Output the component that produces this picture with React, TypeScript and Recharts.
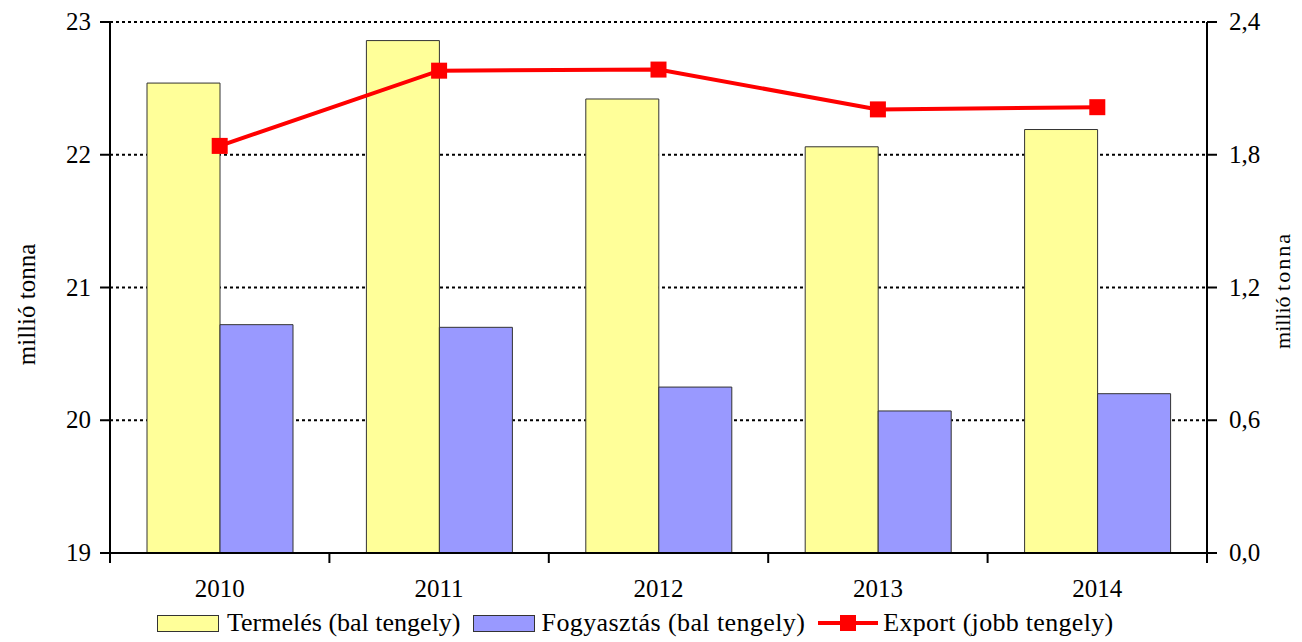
import { ComposedChart, Bar, Line, XAxis, YAxis, CartesianGrid, Legend } from 'recharts';

const years = ['2010', '2011', '2012', '2013', '2014'];
const termeles = [22.54, 22.86, 22.42, 22.06, 22.19];
const fogyasztas = [20.72, 20.7, 20.25, 20.07, 20.2];
const exportVals = [1.84, 2.18, 2.185, 2.005, 2.015];

const leftTicks = [19, 20, 21, 22, 23];
const rightTicks = [0, 0.6, 1.2, 1.8, 2.4];

const data = years.map((year, i) => ({
  year,
  termeles: termeles[i],
  fogyasztas: fogyasztas[i],
  export: exportVals[i],
}));

const FONT = 'Liberation Serif, serif';

const XTick = (props: any) => {
  const { x, y, payload, index, width, visibleTicksCount } = props;
  const half = width / visibleTicksCount / 2;
  const top = y - 10;
  return (
    <g>
      <line x1={x - half} x2={x - half} y1={top} y2={y} stroke="#000" strokeWidth={2} />
      {index === visibleTicksCount - 1 && (
        <line x1={x + half} x2={x + half} y1={top} y2={y} stroke="#000" strokeWidth={2} />
      )}
      <text x={x} y={y + 34} textAnchor="middle" fontSize={25} fontFamily={FONT} fill="#000">
        {payload.value}
      </text>
    </g>
  );
};

const YTick = (props: any) => {
  const { x, y, payload, textAnchor, tickFormatter } = props;
  const label = tickFormatter ? tickFormatter(payload.value) : payload.value;
  return (
    <text x={x} y={y + 8} textAnchor={textAnchor} fontSize={25} fontFamily={FONT} fill="#000">
      {label}
    </text>
  );
};

const SideLabel = ({ viewBox, posX, shift, size, spacing }: any) => {
  const cy = viewBox.y + viewBox.height / 2 + shift;
  return (
    <text
      x={posX}
      y={cy}
      transform={`rotate(-90, ${posX}, ${cy})`}
      textAnchor="middle"
      dominantBaseline="central"
      fontSize={size}
      fontFamily={FONT}
      fill="#000"
    >
      millió <tspan letterSpacing={spacing}>tonna</tspan>
    </text>
  );
};

const LegendContent = () => (
  <div style={{ display: 'flex', alignItems: 'center', fontFamily: FONT, fontSize: 26, color: '#000', paddingLeft: 157, whiteSpace: 'nowrap' }}>
    <span style={{ display: 'inline-block', width: 60, height: 15, background: '#FFFF99', border: '1px solid #333' }} />
    <span style={{ marginLeft: 8, marginRight: 12 }}>Termelés (bal tengely)</span>
    <span style={{ display: 'inline-block', width: 60, height: 15, background: '#9999FF', border: '1px solid #333' }} />
    <span style={{ marginLeft: 7, marginRight: 13, letterSpacing: 0.4 }}>Fogyasztás (bal tengely)</span>
    <svg width={60} height={18}>
      <line x1={0} x2={60} y1={9} y2={9} stroke="#FF0000" strokeWidth={4} />
      <rect x={22} y={1} width={16} height={16} fill="#FF0000" />
    </svg>
    <span style={{ marginLeft: 5, letterSpacing: 0.3 }}>Export (jobb tengely)</span>
  </div>
);

export default function App() {
  return (
    <div style={{ position: 'absolute', left: 0, top: 0, background: '#fff' }}>
      <ComposedChart
        width={1302}
        height={642}
        data={data}
        margin={{ top: 22, right: 0, bottom: 39, left: 0 }}
        barGap={0}
      >
        <CartesianGrid
          yAxisId="left"
          vertical={false}
          stroke="#000"
          strokeWidth={2}
          strokeDasharray="3 3"
        />
        <XAxis
          dataKey="year"
          height={50}
          tickLine={false}
          tickSize={10}
          tickMargin={0}
          axisLine={{ stroke: '#000', strokeWidth: 2 }}
          tick={<XTick />}
          interval={0}
        />
        <YAxis
          yAxisId="left"
          width={110}
          domain={[19, 23]}
          ticks={leftTicks}
          allowDataOverflow
          tickSize={10}
          tickMargin={9}
          axisLine={{ stroke: '#000', strokeWidth: 2 }}
          tickLine={{ stroke: '#000', strokeWidth: 2 }}
          tick={<YTick />}
          label={<SideLabel posX={26} shift={17} size={25} spacing={0} />}
        />
        <YAxis
          yAxisId="right"
          orientation="right"
          width={95}
          domain={[0, 2.4]}
          ticks={rightTicks}
          tickFormatter={(v: number) => v.toFixed(1).replace('.', ',')}
          tickSize={10}
          tickMargin={12}
          axisLine={{ stroke: '#000', strokeWidth: 2 }}
          tickLine={{ stroke: '#000', strokeWidth: 2 }}
          tick={<YTick />}
          label={<SideLabel posX={1282} shift={3} size={22} spacing={2} />}
        />
        <Bar yAxisId="left" dataKey="termeles" name="Termelés (bal tengely)" fill="#FFFF99" stroke="#333" strokeWidth={1} barSize={73} isAnimationActive={false} />
        <Bar yAxisId="left" dataKey="fogyasztas" name="Fogyasztás (bal tengely)" fill="#9999FF" stroke="#333" strokeWidth={1} barSize={73} isAnimationActive={false} />
        <Line
          yAxisId="right"
          dataKey="export"
          name="Export (jobb tengely)"
          stroke="#FF0000"
          strokeWidth={4}
          isAnimationActive={false}
          dot={(p: any) => <rect key={p.index} x={p.cx - 8} y={p.cy - 8} width={16} height={16} fill="#FF0000" />}
          activeDot={false}
        />
        <Legend
          layout="horizontal"
          verticalAlign="middle"
          align="center"
          content={<LegendContent />}
          wrapperStyle={{ top: 608, left: 0, width: 1302 }}
        />
      </ComposedChart>
    </div>
  );
}
